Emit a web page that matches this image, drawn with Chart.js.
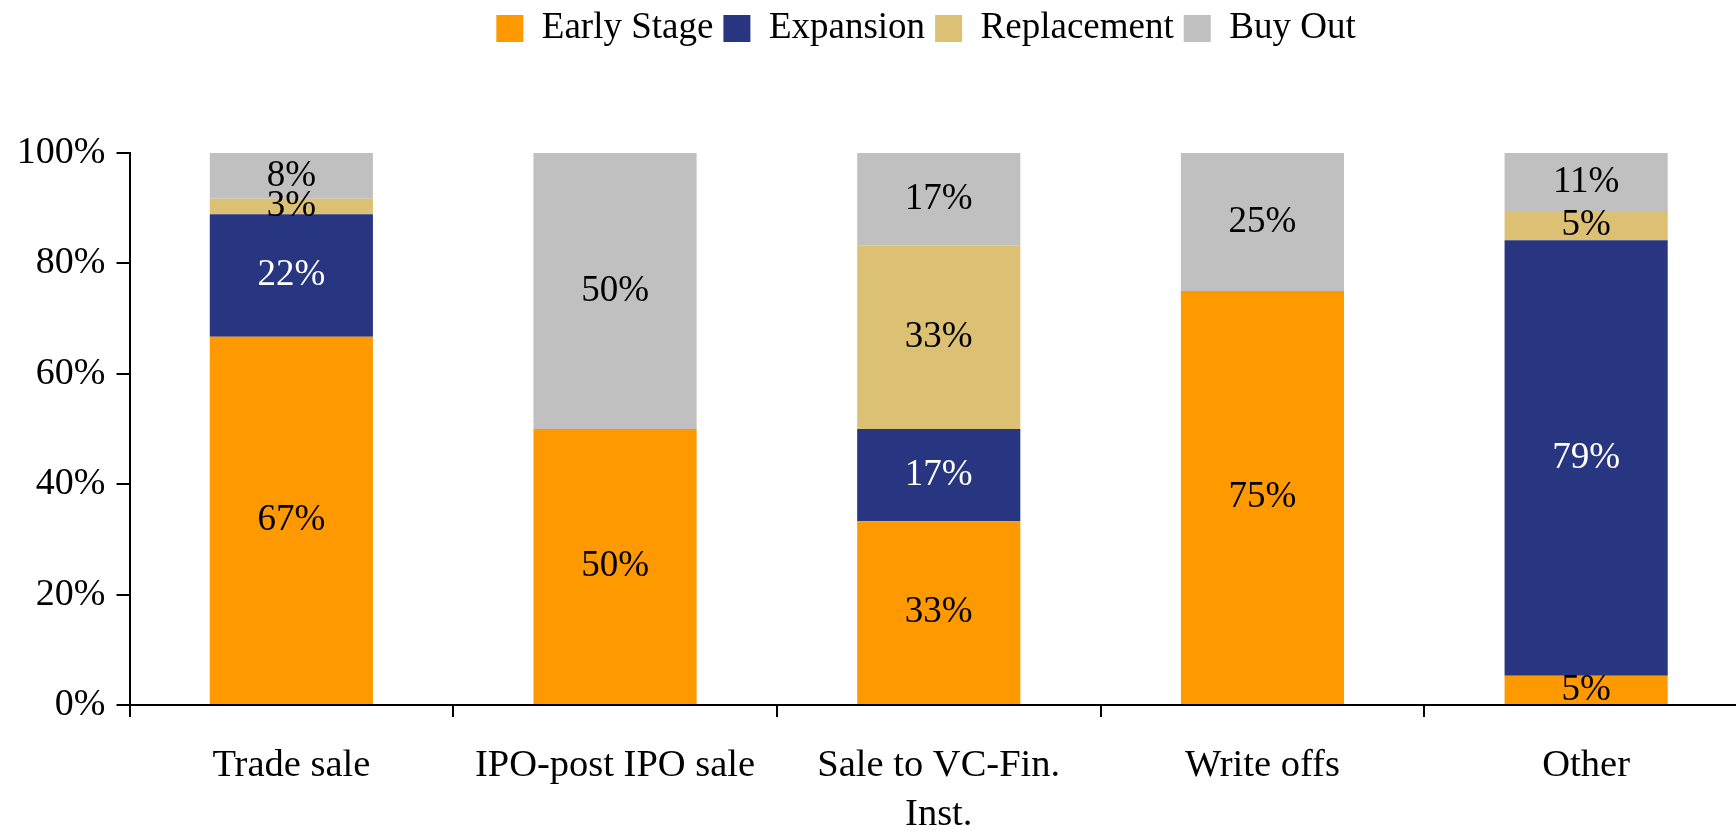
<!DOCTYPE html>
<html>
<head>
<meta charset="utf-8">
<script src="https://cdn.jsdelivr.net/npm/chart.js@4.4.1/dist/chart.umd.min.js"></script>
<style>
  html, body { margin: 0; padding: 0; background: #fff; overflow: hidden; }
  #wrap { width: 1736px; height: 831px; overflow: hidden; }
</style>
</head>
<body>
<div id="wrap"><canvas id="myChart" width="1760" height="831"></canvas></div>
<script>
// exit routes and share of each stage (%)
const categories = ['Trade sale', 'IPO-post IPO sale', ['Sale to VC-Fin.', 'Inst.'], 'Write offs', 'Other'];
const earlyStage = [66.7, 50, 33.3, 75, 5.3];
const expansion = [22.2, 0, 16.7, 0, 78.9];
const replacement = [2.8, 0, 33.3, 0, 5.3];
const buyOut = [8.3, 50, 16.7, 25, 10.5];
const yTicks = [0, 20, 40, 60, 80, 100];

const serif = "'Liberation Serif', 'Times New Roman', serif";
Chart.defaults.font.family = serif;
Chart.defaults.color = '#000';

// percent labels in the middle of each segment
const segmentLabels = {
    id: 'segmentLabels',
    afterDatasetsDraw(chart) {
        const ctx = chart.ctx;
        ctx.save();
        ctx.font = '37px ' + serif;
        ctx.textAlign = 'center';
        ctx.textBaseline = 'middle';
        chart.data.datasets.forEach(function(ds, i) {
            const meta = chart.getDatasetMeta(i);
            meta.data.forEach(function(bar, j) {
                const v = ds.data[j];
                if (!v) return;
                ctx.fillStyle = ds.labelColor;
                ctx.fillText(Math.round(v) + '%', bar.x, (bar.y + bar.base) / 2);
            });
        });
        ctx.restore();
    }
};

// room above the plot, legend centred a bit right of the page middle
const legendSpace = {
    id: 'legendSpace',
    beforeInit(chart) {
        const fit = chart.legend.fit;
        chart.legend.fit = function() {
            fit.bind(chart.legend)();
            this.height = 153;
        };
    },
    afterLayout(chart) {
        chart.legend.left = 104;
        chart.legend.right = 1748;
        chart.legend.width = 1748 - 104;
    }
};

var ctx = document.getElementById('myChart').getContext('2d');
var myChart = new Chart(ctx, {
    type: 'bar',
    data: {
        labels: categories,
        datasets: [
            { label: 'Early Stage', data: earlyStage, backgroundColor: '#FF9900', labelColor: '#000' },
            { label: 'Expansion', data: expansion, backgroundColor: '#283580', labelColor: '#fff' },
            { label: 'Replacement', data: replacement, backgroundColor: '#DCC074', labelColor: '#000' },
            { label: 'Buy Out', data: buyOut, backgroundColor: '#C0C0C0', labelColor: '#000' }
        ]
    },
    options: {
        responsive: false,
        animation: false,
        devicePixelRatio: 1,
        layout: { padding: { left: 0, right: 12, top: 0, bottom: 0 } },
        datasets: {
            bar: { barPercentage: 0.504, categoryPercentage: 1, borderWidth: 0 }
        },
        plugins: {
            tooltip: { enabled: false },
            legend: {
                position: 'top',
                labels: {
                    boxWidth: 27,
                    boxHeight: 27,
                    padding: 10,
                    color: '#000',
                    font: { size: 37 }
                }
            }
        },
        scales: {
            x: {
                stacked: true,
                grid: {
                    offset: true,
                    drawOnChartArea: false,
                    drawTicks: true,
                    tickLength: 12,
                    color: '#000',
                    lineWidth: 2
                },
                border: { display: true, color: '#000', width: 2 },
                ticks: {
                    autoSkip: false,
                    maxRotation: 0,
                    minRotation: 0,
                    padding: 24,
                    color: '#000',
                    font: { size: 38.5, lineHeight: 1.283 }
                },
                afterFit: function(scale) { scale.height = 126; }
            },
            y: {
                stacked: true,
                min: 0,
                max: 100,
                afterBuildTicks: function(scale) {
                    scale.ticks = yTicks.map(function(v) { return { value: v }; });
                },
                grid: {
                    drawOnChartArea: false,
                    drawTicks: true,
                    tickLength: 13,
                    color: '#000',
                    lineWidth: 2
                },
                border: { display: true, color: '#000', width: 2 },
                ticks: {
                    padding: 11,
                    color: '#000',
                    font: { size: 38 },
                    callback: function(v) { return v + '%'; }
                },
                afterFit: function(scale) { scale.width = 129.5; }
            }
        }
    },
    plugins: [segmentLabels, legendSpace]
});
</script>
</body>
</html>
